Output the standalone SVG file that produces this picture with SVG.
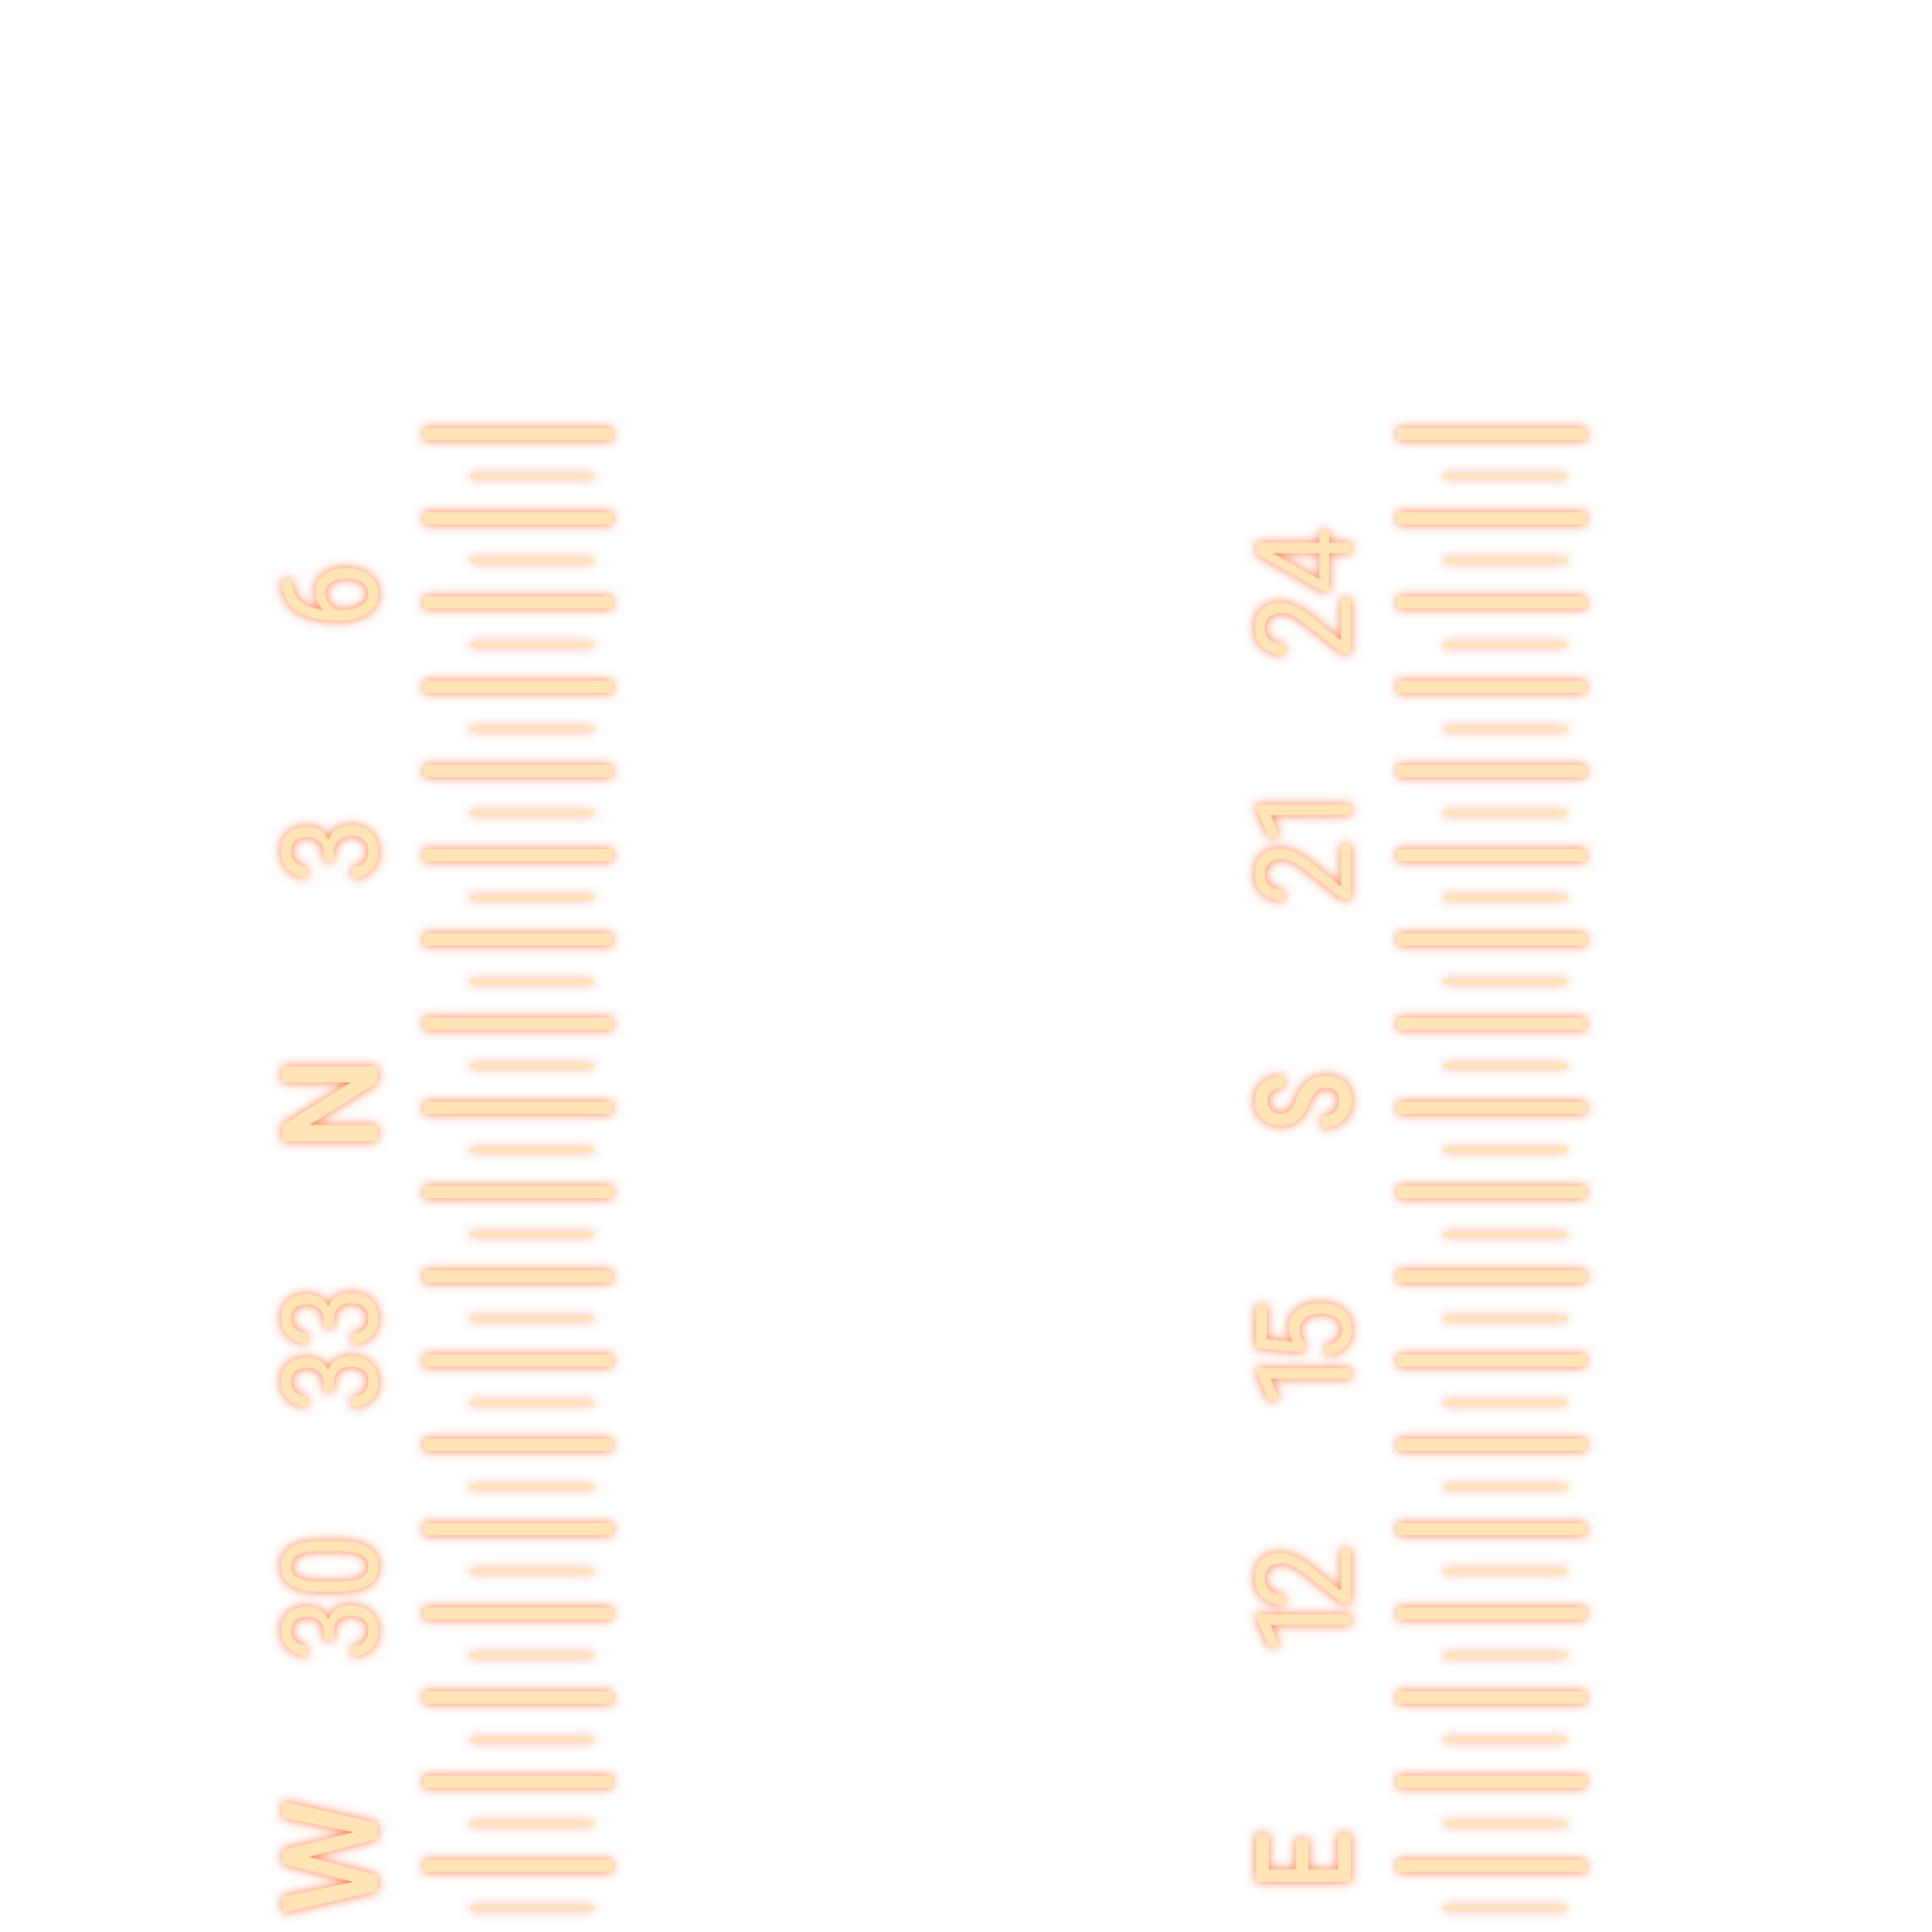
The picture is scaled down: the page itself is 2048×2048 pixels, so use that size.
<svg xmlns="http://www.w3.org/2000/svg" xmlns:xlink="http://www.w3.org/1999/xlink" width="2048" height="2048" viewBox="0 0 2048 2048">
  <style>
    .major { fill: #FFE4B5; }
    .minor { fill: #FFE4B5; }
    .lbl { fill: #FFE4B5; font-family: Roboto, "Liberation Sans", sans-serif; font-weight: 400; font-size: 141px; text-anchor: middle; }
    .card { font-weight: 500; }
  </style>
  <defs>
    <filter id="glow" x="-30%" y="-30%" width="160%" height="160%" color-interpolation-filters="sRGB">
      <feGaussianBlur in="SourceAlpha" stdDeviation="6" result="b"/>
      <feFlood flood-color="#FF4500" flood-opacity="0.7"/>
      <feComposite in2="b" operator="in" result="g"/>
      <feMerge>
        <feMergeNode in="g"/>
        <feMergeNode in="SourceGraphic"/>
      </feMerge>
    </filter>
    <g id="ticks">
      <rect class="major" x="449" y="453.7" width="200" height="13"/>
      <rect class="major" x="449" y="542.98" width="200" height="13"/>
      <rect class="major" x="449" y="632.26" width="200" height="13"/>
      <rect class="major" x="449" y="721.54" width="200" height="13"/>
      <rect class="major" x="449" y="810.82" width="200" height="13"/>
      <rect class="major" x="449" y="900.1" width="200" height="13"/>
      <rect class="major" x="449" y="989.38" width="200" height="13"/>
      <rect class="major" x="449" y="1078.66" width="200" height="13"/>
      <rect class="major" x="449" y="1167.94" width="200" height="13"/>
      <rect class="major" x="449" y="1257.22" width="200" height="13"/>
      <rect class="major" x="449" y="1346.5" width="200" height="13"/>
      <rect class="major" x="449" y="1435.78" width="200" height="13"/>
      <rect class="major" x="449" y="1525.06" width="200" height="13"/>
      <rect class="major" x="449" y="1614.34" width="200" height="13"/>
      <rect class="major" x="449" y="1703.62" width="200" height="13"/>
      <rect class="major" x="449" y="1792.9" width="200" height="13"/>
      <rect class="major" x="449" y="1882.18" width="200" height="13"/>
      <rect class="major" x="449" y="1971.46" width="200" height="13"/>
      <rect class="minor" x="498" y="502.84" width="131" height="4"/>
      <rect class="minor" x="498" y="592.12" width="131" height="4"/>
      <rect class="minor" x="498" y="681.4" width="131" height="4"/>
      <rect class="minor" x="498" y="770.68" width="131" height="4"/>
      <rect class="minor" x="498" y="859.96" width="131" height="4"/>
      <rect class="minor" x="498" y="949.24" width="131" height="4"/>
      <rect class="minor" x="498" y="1038.52" width="131" height="4"/>
      <rect class="minor" x="498" y="1127.8" width="131" height="4"/>
      <rect class="minor" x="498" y="1217.08" width="131" height="4"/>
      <rect class="minor" x="498" y="1306.36" width="131" height="4"/>
      <rect class="minor" x="498" y="1395.64" width="131" height="4"/>
      <rect class="minor" x="498" y="1484.92" width="131" height="4"/>
      <rect class="minor" x="498" y="1574.2" width="131" height="4"/>
      <rect class="minor" x="498" y="1663.48" width="131" height="4"/>
      <rect class="minor" x="498" y="1752.76" width="131" height="4"/>
      <rect class="minor" x="498" y="1842.04" width="131" height="4"/>
      <rect class="minor" x="498" y="1931.32" width="131" height="4"/>
      <rect class="minor" x="498" y="2020.6" width="131" height="4"/>
    </g>
  </defs>
  <rect width="2048" height="2048" fill="#FFFFFF"/>
  <g id="tape-left" filter="url(#glow)">
    <use xlink:href="#ticks" href="#ticks"/>
    <text class="lbl" transform="translate(400,631) rotate(-90) scale(0.88,1)">6</text>
    <text class="lbl" transform="translate(400,901.5) rotate(-90) scale(0.88,1)">3</text>
    <text class="lbl card" transform="translate(400,1170) rotate(-90)">N</text>
    <text class="lbl" transform="translate(400,1430) rotate(-90) scale(0.85,1)">33</text>
    <text class="lbl" transform="translate(400,1694) rotate(-90) scale(0.85,1)">30</text>
    <text class="lbl card" transform="translate(400,1969) rotate(-90)">W</text>
  </g>
  <g id="tape-right" filter="url(#glow)">
    <use xlink:href="#ticks" href="#ticks" x="1032"/>
    <text class="lbl" transform="translate(1432,630) rotate(-90) scale(0.88,1)">24</text>
    <text class="lbl" transform="translate(1432,897) rotate(-90) scale(0.88,1)" letter-spacing="-7">21</text>
    <text class="lbl card" transform="translate(1432,1168) rotate(-90) scale(0.74,1)">S</text>
    <text class="lbl" transform="translate(1432,1446) rotate(-90) scale(0.88,1)" letter-spacing="-24">15</text>
    <text class="lbl" transform="translate(1432,1707) rotate(-90) scale(0.88,1)" letter-spacing="-24">12</text>
    <text class="lbl card" transform="translate(1432,1972) rotate(-90) scale(0.78,1)">E</text>
  </g>
</svg>
